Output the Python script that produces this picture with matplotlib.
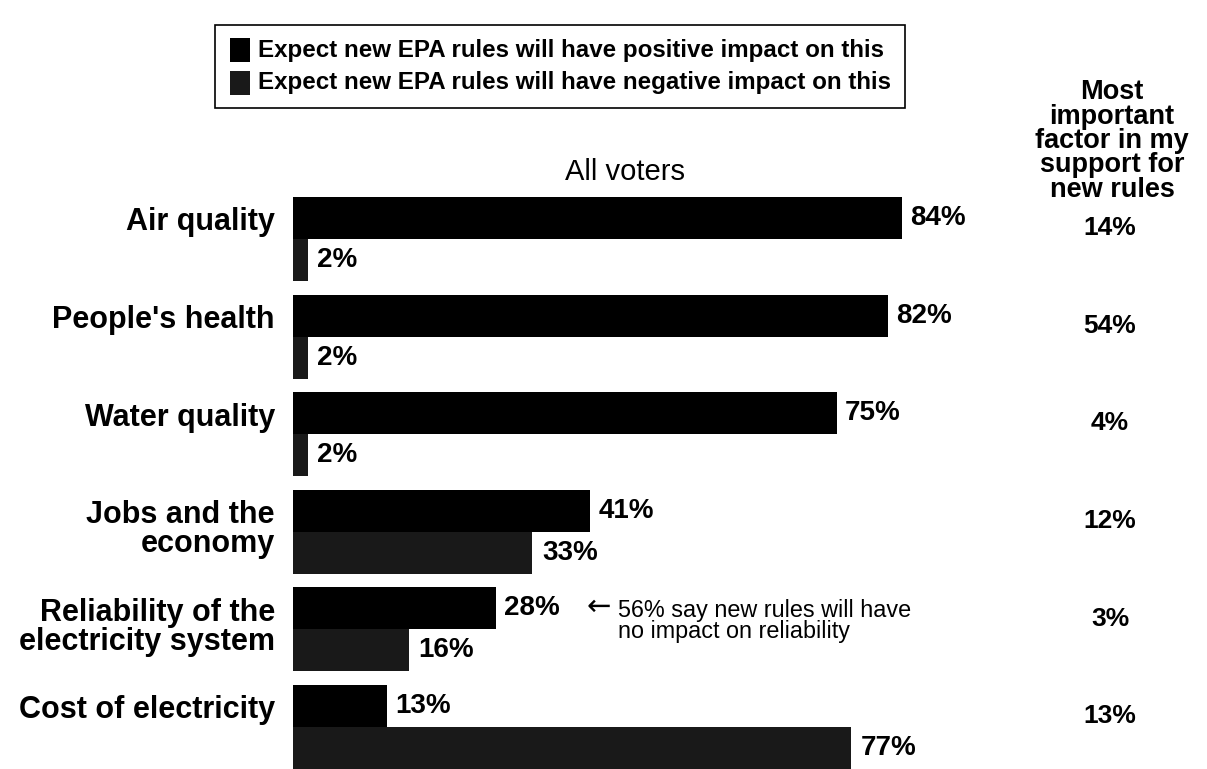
import matplotlib.pyplot as plt
from matplotlib.patches import Rectangle

# survey results, all voters (%)
categories = ["Air quality", "People's health", "Water quality",
              "Jobs and the\neconomy", "Reliability of the\nelectricity system",
              "Cost of electricity"]
positive = [84, 82, 75, 41, 28, 13]
negative = [2, 2, 2, 33, 16, 77]
most_important = [14, 54, 4, 12, 3, 13]

legend_labels = ["Expect new EPA rules will have positive impact on this",
                 "Expect new EPA rules will have negative impact on this"]
note = "56% say new rules will have\nno impact on reliability"

POS_COLOR = "#000000"
NEG_COLOR = "#191919"
BAR_H = 0.43

plt.rcParams['font.family'] = ['Liberation Sans', 'DejaVu Sans']

W, H = 1207, 769
fig = plt.figure(figsize=(W / 100, H / 100), dpi=100)
fig.patch.set_facecolor("white")

# bar area: x from 293px, 7.25 px per percent; rows 97.6 px apart
ax = fig.add_axes([293 / W, 0, 725 / W, 572 / H])
ax.set_xlim(0, 100)
ax.set_ylim(5 + BAR_H, -BAR_H)
ax.axis("off")

rows = range(len(categories))
ax.barh([i - BAR_H / 2 for i in rows], positive, height=BAR_H,
        color=POS_COLOR, edgecolor="none")
ax.barh([i + BAR_H / 2 for i in rows], negative, height=BAR_H,
        color=NEG_COLOR, edgecolor="none")

for i in rows:
    ax.annotate("{}%".format(positive[i]), (positive[i], i - BAR_H / 2),
                textcoords="offset points", xytext=(6, 0),
                ha="left", va="center", fontsize=20, fontweight="bold")
    ax.annotate("{}%".format(negative[i]), (negative[i], i + BAR_H / 2),
                textcoords="offset points", xytext=(7, 0),
                ha="left", va="center", fontsize=20, fontweight="bold")

    label_y = i - 0.02 if "\n" in categories[i] else i - 0.17
    ax.annotate(categories[i], (0, label_y),
                textcoords="offset points", xytext=(-13, 0),
                ha="right", va="center", fontsize=22, fontweight="bold",
                linespacing=0.96, annotation_clip=False)

    ax.text(112.7, i - 0.11, "{}%".format(most_important[i]),
            ha="center", va="center", fontsize=19, fontweight="bold",
            clip_on=False)

# note next to the reliability bar
ax.annotate("\u2190", (positive[4], 4 - BAR_H / 2),
            textcoords="offset points", xytext=(65, 1),
            ha="left", va="center", fontsize=21, family="DejaVu Sans")
ax.annotate(note, (positive[4], 4 - BAR_H / 2 + 0.13),
            textcoords="offset points", xytext=(88, 0),
            ha="left", va="center", fontsize=16.8, linespacing=0.88)

fig.text(625 / W, 1 - 172 / H, "All voters", ha="center", va="center",
         fontsize=21)

fig.text(1112 / W, 1 - 141 / H, "Most\nimportant\nfactor in my\nsupport for\nnew rules",
         ha="center", va="center", fontsize=19.5, fontweight="bold",
         linespacing=0.92)

# legend box
fig.patches.append(Rectangle((215 / W, 1 - 108 / H), 690 / W, 83 / H,
                             transform=fig.transFigure, facecolor="none",
                             edgecolor="black", linewidth=1.2))
for k, (lab, col) in enumerate(zip(legend_labels, [POS_COLOR, NEG_COLOR])):
    yc = 50 + 33 * k
    fig.patches.append(Rectangle((230 / W, 1 - (yc + 12) / H), 20 / W, 24 / H,
                                 transform=fig.transFigure, facecolor=col,
                                 edgecolor="none"))
    fig.text(258 / W, 1 - yc / H, lab, ha="left", va="center",
             fontsize=17.4, fontweight="bold")

fig.savefig("out.png", dpi=100)
